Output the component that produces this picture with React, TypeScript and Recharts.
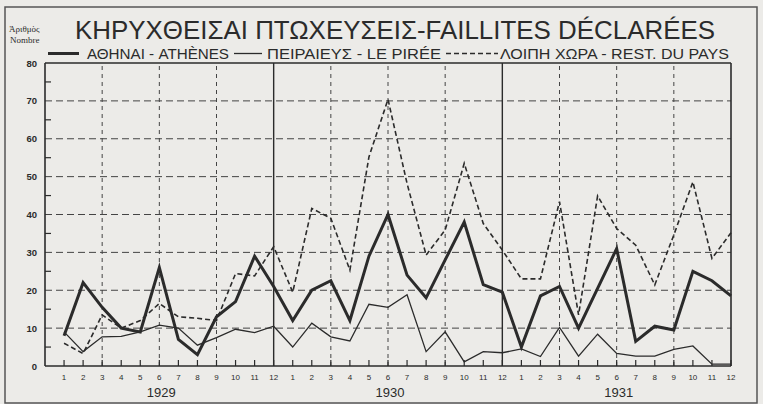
import React from "react";
import {
  ComposedChart,
  Line,
  XAxis,
  YAxis,
  ReferenceLine,
} from "recharts";

// monthly counts, Jan 1929 .. Dec 1931
const athens = [
  8, 22, 15.5, 10, 9, 26, 7, 3, 13, 17, 29, 21,
  12, 20, 22.5, 12, 29, 40, 24, 18, 28, 38, 21.5, 19.5,
  5, 18.5, 21, 10, 20.5, 31, 6.5, 10.5, 9.5, 25, 22.5, 18.5,
];
const piraeus = [
  9, 3.8, 7.7, 7.8, 9, 10.8, 10, 5.5, 7.5, 9.7, 8.8, 10.5,
  5, 11.3, 7.7, 6.6, 16.3, 15.5, 18.8, 3.8, 9, 1.1, 3.8, 3.5,
  4.5, 2.5, 10.2, 2.6, 8.4, 3.3, 2.6, 2.6, 4.4, 5.3, 0.5, 0.5,
];
const rest = [
  6, 3.3, 13.5, 10, 12, 16.5, 13, 12.6, 12, 24.4, 23.8, 31.5,
  19.5, 41.6, 39, 25.3, 55.2, 70.4, 48.2, 29.3, 35.9, 53.5, 37.6, 30.6,
  23, 23, 43.4, 13.5, 44.9, 36.3, 31.9, 21.4, 34.6, 48.6, 28.4, 35.2,
];
const years = ["1929", "1930", "1931"];
const monthLabels = ["1", "2", "3", "4", "5", "6", "7", "8", "9", "10", "11", "12"];
const yTicks = [0, 5, 10, 15, 20, 25, 30, 35, 40, 45, 50, 55, 60, 65, 70, 75, 80];
const hGrid = [10, 20, 30, 40, 50, 60, 70];
const vGridDashed = [3, 6, 9, 15, 18, 21, 27, 30, 33];
const vGridSolid = [12, 24];

const data = athens.map((a, i) => ({
  m: i + 1,
  athens: a,
  piraeus: piraeus[i],
  rest: rest[i],
}));

const INK = "#2b2b2b";
const BOTTOM = 366;
const SANS = "'Liberation Sans', Arial, sans-serif";

const XTick = (props: any) => {
  const { x, payload } = props;
  const idx = payload.value - 1;
  const month = idx % 12;
  return (
    <g>
      <line x1={x} x2={x} y1={BOTTOM} y2={BOTTOM - 6} stroke={INK} strokeWidth={1.2} />
      <text x={x} y={380} textAnchor="middle" fontSize={8} fill={INK} fontFamily={SANS}>
        {monthLabels[month]}
      </text>
      {month === 5 && (
        <text x={x + 2} y={397} textAnchor="middle" fontSize={13} fill={INK} fontFamily={SANS}>
          {years[Math.floor(idx / 12)]}
        </text>
      )}
    </g>
  );
};

const YTick = (props: any) => {
  const { y, payload } = props;
  const v = payload.value;
  if (v % 10 !== 0) {
    return <line x1={45} x2={51} y1={y} y2={y} stroke={INK} strokeWidth={1.2} />;
  }
  return (
    <text x={37} y={y + 3.5} textAnchor="end" fontSize={9.5} fontWeight="bold" fill={INK} fontFamily={SANS}>
      {v}
    </text>
  );
};

const Overlay = () => (
  <svg
    width={763}
    height={404}
    style={{ position: "absolute", left: 0, top: 0, pointerEvents: "none" }}
  >
    <rect x={5} y={7} width={752} height={396} fill="none" stroke="#555" strokeWidth={1.5} />
    <text x={9} y={32} fontSize={9} fill={INK} fontFamily="'Liberation Serif', serif">
      Ἀριθμὸς
    </text>
    <text x={10} y={43} fontSize={9} fill={INK} fontFamily="'Liberation Serif', serif">
      Nombre
    </text>
    <text
      transform="translate(75,39) scale(1,1.3)"
      fontSize={20}
      fill={INK}
      fontFamily={SANS}
      textLength={640}
      lengthAdjust="spacingAndGlyphs"
    >
      ΚΗΡΥΧΘΕΙΣΑΙ ΠΤΩΧΕΥΣΕΙΣ-FAILLITES DÉCLARÉES
    </text>
    <line x1={48} x2={79} y1={53.5} y2={53.5} stroke={INK} strokeWidth={3} />
    <text x={87} y={59} fontSize={14} fill={INK} fontFamily={SANS} textLength={142} lengthAdjust="spacingAndGlyphs">
      ΑΘΗΝΑΙ - ATHÈNES
    </text>
    <line x1={234} x2={262} y1={53.5} y2={53.5} stroke={INK} strokeWidth={1.3} />
    <text x={267} y={59} fontSize={14} fill={INK} fontFamily={SANS} textLength={174} lengthAdjust="spacingAndGlyphs">
      ΠΕΙΡΑΙΕΥΣ - LE PIRÉE
    </text>
    <line x1={446} x2={498} y1={53.5} y2={53.5} stroke={INK} strokeWidth={1.5} strokeDasharray="5 3" />
    <text x={500} y={59} fontSize={14} fill={INK} fontFamily={SANS} textLength={229} lengthAdjust="spacingAndGlyphs">
      ΛΟΙΠΗ ΧΩΡΑ - REST. DU PAYS
    </text>
  </svg>
);

export default function App() {
  return (
    <div
      style={{
        position: "absolute",
        left: 0,
        top: 0,
        width: 763,
        height: 404,
        background: "#ecebe8",
      }}
    >
      <ComposedChart
        width={763}
        height={404}
        data={data}
        margin={{ top: 63, right: 32, left: 0, bottom: 0 }}
      >
        <XAxis
          dataKey="m"
          type="number"
          domain={[0, 36]}
          ticks={data.map((d) => d.m)}
          interval={0}
          height={38}
          tickLine={false}
          axisLine={{ stroke: INK, strokeWidth: 1.6 }}
          tick={<XTick />}
        />
        <YAxis
          type="number"
          domain={[0, 80]}
          ticks={yTicks}
          interval={0}
          width={45}
          tickLine={false}
          axisLine={{ stroke: INK, strokeWidth: 1.6 }}
          tick={<YTick />}
        />
        {hGrid.map((v) => (
          <ReferenceLine key={"h" + v} y={v} stroke="#444" strokeWidth={1} strokeDasharray="7 4" />
        ))}
        {vGridDashed.map((v) => (
          <ReferenceLine key={"v" + v} x={v} stroke="#444" strokeWidth={1} strokeDasharray="4 4" />
        ))}
        {vGridSolid.map((v) => (
          <ReferenceLine key={"s" + v} x={v} stroke={INK} strokeWidth={1.4} />
        ))}
        <ReferenceLine y={80} stroke={INK} strokeWidth={1.6} />
        <ReferenceLine x={36} stroke={INK} strokeWidth={1.6} />
        <Line
          type="linear"
          dataKey="rest"
          stroke={INK}
          strokeWidth={1.6}
          strokeDasharray="5 3"
          dot={false}
          isAnimationActive={false}
        />
        <Line
          type="linear"
          dataKey="piraeus"
          stroke={INK}
          strokeWidth={1.3}
          dot={false}
          isAnimationActive={false}
        />
        <Line
          type="linear"
          dataKey="athens"
          stroke={INK}
          strokeWidth={3}
          dot={false}
          isAnimationActive={false}
        />
      </ComposedChart>
      <Overlay />
    </div>
  );
}
